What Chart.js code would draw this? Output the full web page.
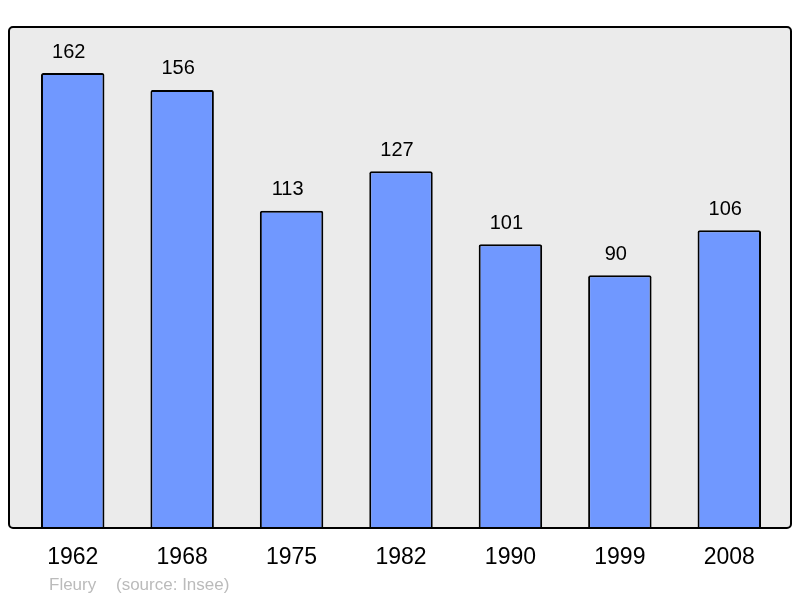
<!DOCTYPE html>
<html>
<head>
<meta charset="utf-8">
<script src="https://cdn.jsdelivr.net/npm/chart.js@4/dist/chart.umd.min.js"></script>
<style>
  html, body { margin: 0; padding: 0; background: #fff; }
  #wrap { width: 800px; height: 598px; }
</style>
</head>
<body>
<div id="wrap"><canvas id="pop-chart"></canvas></div>
<script>
  // population data
  const years = ['1962','1968','1975','1982','1990','1999','2008'];
  const population = [162,156,113,127,101,90,106];
  const footerPlace = 'Fleury';
  const footerSource = '(source: Insee)';

  // grey frame behind the bars, value labels, footer
  const framePlugin = {
    id: 'frame',
    beforeDatasetsDraw(chart) {
      const ctx = chart.ctx;
      ctx.save();
      ctx.beginPath();
      ctx.roundRect(9, 27, 782, 501, 4);
      ctx.fillStyle = '#ebebeb';
      ctx.fill();
      ctx.restore();
    },
    afterDatasetsDraw(chart) {
      const ctx = chart.ctx;
      ctx.save();
      ctx.beginPath();
      ctx.roundRect(9, 27, 782, 501, 4);
      ctx.lineWidth = 2;
      ctx.strokeStyle = '#000';
      ctx.stroke();

      // values over the bars
      ctx.fillStyle = '#000';
      ctx.font = '20px "Liberation Sans", Arial, sans-serif';
      ctx.textAlign = 'center';
      ctx.textBaseline = 'middle';
      chart.getDatasetMeta(0).data.forEach(function(bar, i){
        ctx.fillText(population[i], bar.x - 4, bar.y - 21);
      });

      // footer
      ctx.fillStyle = '#bbbbbb';
      ctx.font = '17px "Liberation Sans", Arial, sans-serif';
      ctx.textAlign = 'left';
      ctx.fillText(footerPlace, 49, 585);
      ctx.fillText(footerSource, 116, 585);
      ctx.restore();
    }
  };

  const el = document.getElementById('pop-chart');
  const popChart = new Chart(el, {
    type: 'bar',
    data: {
      labels: years,
      datasets: [{
        data: population,
        backgroundColor: '#7098ff',
        borderColor: '#000',
        borderWidth: 2,
        borderRadius: 2,
        borderSkipped: 'bottom',
        barPercentage: 0.58,
        categoryPercentage: 1
      }]
    },
    options: {
      responsive: true,
      maintainAspectRatio: false,
      animation: false,
      layout: {
        padding: { left: 18, right: 16, top: 27, bottom: 0 }
      },
      plugins: {
        legend: { display: false },
        tooltip: { enabled: false }
      },
      scales: {
        x: {
          grid: { display: false },
          border: { display: false },
          ticks: {
            color: '#000',
            padding: 8,
            font: { family: '"Liberation Sans", Arial, sans-serif', size: 23 }
          },
          afterFit(scale) { scale.height = 70; }
        },
        y: {
          display: false,
          min: 0,
          max: 178.4
        }
      }
    },
    plugins: [framePlugin]
  });
</script>
</body>
</html>
